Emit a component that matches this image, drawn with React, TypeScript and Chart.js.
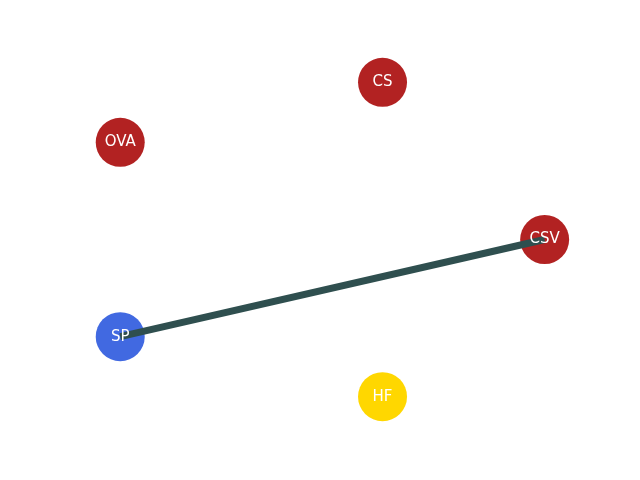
import React, { useEffect, useRef } from 'react';
import { Chart, registerables } from 'chart.js';

Chart.register(...registerables);

// circular layout of the five nodes
const nodeNames = ['CSV', 'CS', 'OVA', 'SP', 'HF'];
const nodeX = [1.0, 0.309, -0.809, -0.809, 0.309];
const nodeY = [0.0, 0.951, 0.588, -0.588, -0.951];
const nodeColors = ['#b22222', '#b22222', '#b22222', '#4169e1', '#ffd700'];
const edges: [string, string][] = [['SP', 'CSV']];

const labelPlugin = {
  id: 'nodeLabels',
  afterDatasetsDraw(chart: any) {
    const meta = chart.getDatasetMeta(chart.data.datasets.length - 1);
    const ctx = chart.ctx;
    ctx.save();
    ctx.fillStyle = '#ffffff';
    ctx.font = '15px "DejaVu Sans"';
    ctx.textAlign = 'center';
    ctx.textBaseline = 'middle';
    meta.data.forEach((pt: any, i: number) => {
      ctx.fillText(nodeNames[i], pt.x, pt.y);
    });
    ctx.restore();
  },
};

const App: React.FC = () => {
  const canvasRef = useRef<HTMLCanvasElement>(null);

  useEffect(() => {
    if (!canvasRef.current) return;
    const edgeSets = edges.map(([a, b]) => {
      const ia = nodeNames.indexOf(a);
      const ib = nodeNames.indexOf(b);
      return {
        type: 'line' as const,
        data: [
          { x: nodeX[ia], y: nodeY[ia] },
          { x: nodeX[ib], y: nodeY[ib] },
        ],
        borderColor: '#2f4f4f',
        borderWidth: 7,
        pointRadius: 0,
        fill: false,
      };
    });
    const chart = new Chart(canvasRef.current, {
      type: 'scatter',
      data: {
        datasets: [
          ...edgeSets,
          {
            type: 'scatter' as const,
            data: nodeNames.map((_, i) => ({ x: nodeX[i], y: nodeY[i] })),
            backgroundColor: nodeColors,
            borderWidth: 0,
            pointRadius: 24.5,
            pointHoverRadius: 24.5,
          },
        ] as any,
      },
      options: {
        animation: false,
        responsive: false,
        layout: { padding: 0 },
        scales: {
          x: { type: 'linear', min: -1.217, max: 1.302, display: false },
          y: { type: 'linear', min: -1.307, max: 1.301, display: false },
        },
        plugins: { legend: { display: false }, tooltip: { enabled: false } },
      },
      plugins: [labelPlugin],
    });
    return () => chart.destroy();
  }, []);

  return (
    <div style={{ position: 'fixed', left: 0, top: 0, width: 640, height: 480, background: '#fff' }}>
      <canvas ref={canvasRef} width={640} height={480} />
    </div>
  );
};

export default App;
